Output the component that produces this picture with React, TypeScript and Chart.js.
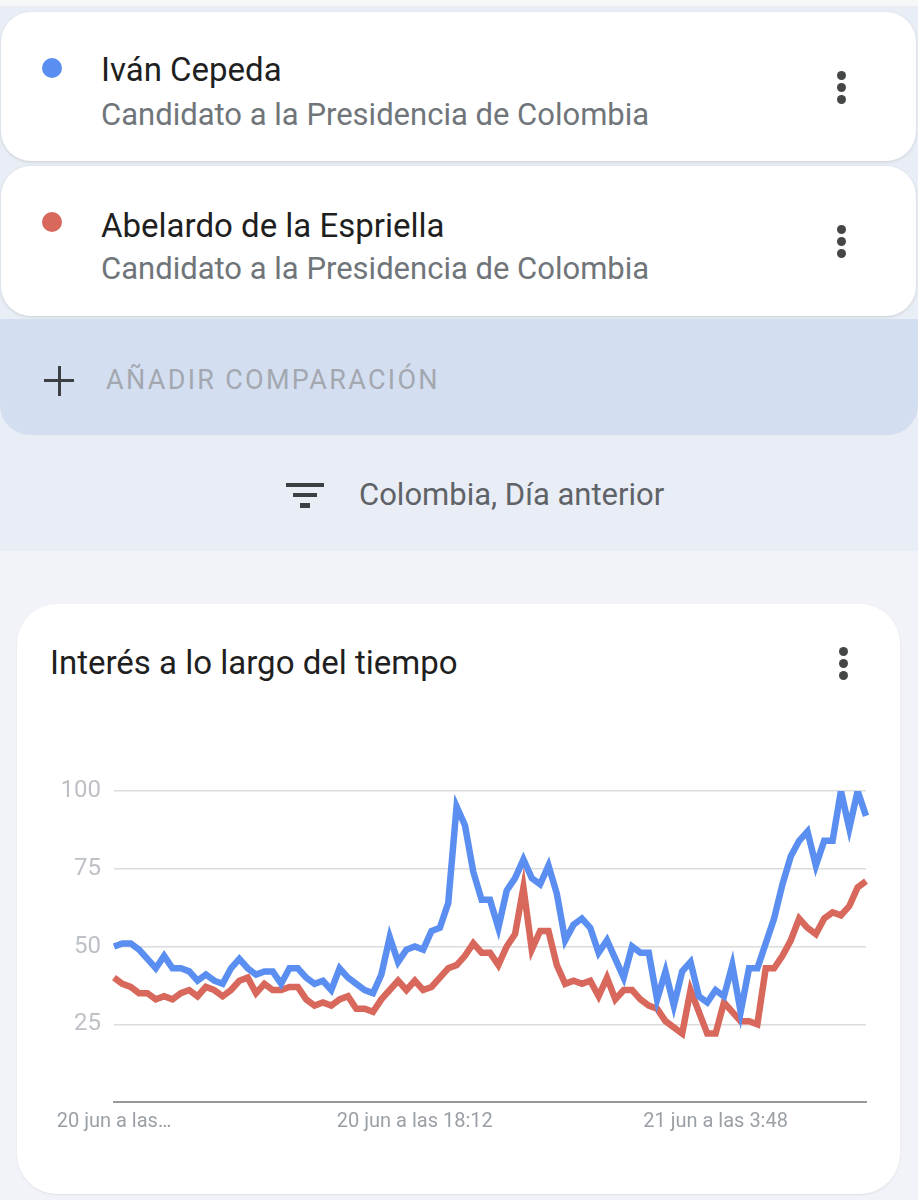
import React, { useEffect, useRef } from 'react';
import { Chart, registerables } from 'chart.js';

Chart.register(...registerables);

// ---- data ----
const DAY_20 = '20 jun a las ';
const DAY_21 = '21 jun a las ';
const TIMES_20 = [
  '8:36', '8:52', '9:08', '9:24', '9:40', '9:56', '10:12', '10:28', '10:44', '11:00',
  '11:16', '11:32', '11:48', '12:04', '12:20', '12:36', '12:52', '13:08', '13:24', '13:40',
  '13:56', '14:12', '14:28', '14:44', '15:00', '15:16', '15:32', '15:48', '16:04', '16:20',
  '16:36', '16:52', '17:08', '17:24', '17:40', '17:56', '18:12', '18:28', '18:44', '19:00',
  '19:16', '19:32', '19:48', '20:04', '20:20', '20:36', '20:52', '21:08', '21:24', '21:40',
  '21:56', '22:12', '22:28', '22:44', '23:00', '23:16', '23:32', '23:48',
];
const TIMES_21 = [
  '0:04', '0:20', '0:36', '0:52', '1:08', '1:24', '1:40', '1:56', '2:12', '2:28',
  '2:44', '3:00', '3:16', '3:32', '3:48', '4:04', '4:20', '4:36', '4:52', '5:08',
  '5:24', '5:40', '5:56', '6:12', '6:28', '6:44', '7:00', '7:16', '7:32', '7:48',
  '8:04', '8:20', '8:36',
];
const CEPEDA = [
  50, 51, 51, 49, 46, 43, 47, 43, 43, 42,
  39, 41, 39, 38, 43, 46, 43, 41, 42, 42,
  38, 43, 43, 40, 38, 39, 36, 43, 40, 38,
  36, 35, 41, 53, 45, 49, 50, 49, 55, 56,
  64, 95, 89, 74, 65, 65, 56, 68, 72, 78,
  72, 70, 76, 67, 52, 57, 59, 56, 48, 52,
  46, 40, 50, 48, 48, 33, 42, 31, 42, 45,
  34, 32, 36, 34, 44, 29, 43, 43, 51, 59,
  70, 79, 84, 87, 76, 84, 84, 100, 88, 100,
  92,
];
const ESPRIELLA = [
  40, 38, 37, 35, 35, 33, 34, 33, 35, 36,
  34, 37, 36, 34, 36, 39, 40, 35, 38, 36,
  36, 37, 37, 33, 31, 32, 31, 33, 34, 30,
  30, 29, 33, 36, 39, 36, 39, 36, 37, 40,
  43, 44, 47, 51, 48, 48, 44, 50, 54, 69,
  49, 55, 55, 44, 38, 39, 38, 39, 34, 40,
  33, 36, 36, 33, 31, 30, 26, 24, 22, 36,
  29, 22, 22, 32, 29, 26, 26, 25, 43, 43,
  47, 52, 59, 56, 54, 59, 61, 60, 63, 69,
  71,
];
const Y_TICKS = [25, 50, 75, 100];
const X_TICK_INDEXES = [0, 36, 72];
const SERIES_NAMES = ['Iván Cepeda', 'Abelardo de la Espriella'];
const SUBTITLE = 'Candidato a la Presidencia de Colombia';
const COLORS = ['#5a8ef0', '#d8685b'];

const LABELS = [
  ...TIMES_20.map((t) => DAY_20 + t),
  ...TIMES_21.map((t) => DAY_21 + t),
];

const FONT = 'Roboto, "Noto Sans", sans-serif';

function Text(props: { x: number; cy: number; size: number; color: string; text: string; weight?: number; spacing?: number }) {
  const lh = Math.round(props.size * 1.4);
  return (
    <div
      style={{
        position: 'absolute',
        left: props.x,
        top: props.cy - lh / 2,
        height: lh,
        lineHeight: lh + 'px',
        fontSize: props.size,
        color: props.color,
        fontFamily: FONT,
        fontWeight: props.weight || 400,
        letterSpacing: props.spacing ? props.spacing + 'px' : undefined,
        whiteSpace: 'nowrap',
      }}
    >
      {props.text}
    </div>
  );
}

function Kebab(props: { x: number; cy: number }) {
  const dots = [-12, 0, 12];
  return (
    <>
      {dots.map((d) => (
        <div
          key={d}
          style={{
            position: 'absolute',
            left: props.x - 4.5,
            top: props.cy + d - 4.5,
            width: 9,
            height: 9,
            borderRadius: '50%',
            background: '#444746',
          }}
        />
      ))}
    </>
  );
}

function Dot(props: { x: number; cy: number; color: string }) {
  return (
    <div
      style={{
        position: 'absolute',
        left: props.x - 10,
        top: props.cy - 10,
        width: 20,
        height: 20,
        borderRadius: '50%',
        background: props.color,
      }}
    />
  );
}

function TrendChart() {
  const ref = useRef<HTMLCanvasElement | null>(null);
  useEffect(() => {
    if (!ref.current) return;
    const chart = new Chart(ref.current, {
      type: 'line',
      data: {
        labels: LABELS,
        datasets: [
          {
            label: SERIES_NAMES[0],
            data: CEPEDA,
            borderColor: COLORS[0],
            backgroundColor: COLORS[0],
            borderWidth: 6.5,
            pointRadius: 0,
            tension: 0,
          },
          {
            label: SERIES_NAMES[1],
            data: ESPRIELLA,
            borderColor: COLORS[1],
            backgroundColor: COLORS[1],
            borderWidth: 6.5,
            pointRadius: 0,
            tension: 0,
          },
        ],
      },
      options: {
        animation: false,
        responsive: false,
        maintainAspectRatio: false,
        layout: { padding: { top: 31, right: 10, left: 0, bottom: 0 } },
        plugins: {
          legend: { display: false },
          tooltip: { enabled: false },
        },
        scales: {
          x: {
            type: 'category',
            grid: { display: false, drawTicks: false },
            border: { display: true, color: '#999999', width: 2 },
            afterBuildTicks: (scale: any) => {
              scale.ticks = X_TICK_INDEXES.map((i) => ({ value: i }));
            },
            afterFit: (scale: any) => {
              scale.height = 58;
            },
            ticks: {
              autoSkip: false,
              maxRotation: 0,
              minRotation: 0,
              padding: 8,
              color: '#9aa0a6',
              font: { family: FONT, size: 20 },
              callback: function (this: any, value: any) {
                const label = this.getLabelForValue(value) as string;
                if (value === 0) return label.slice(0, DAY_20.length - 1) + '…';
                return label;
              },
            },
          },
          y: {
            min: 0,
            max: 100,
            grid: {
              color: '#dcdcdc',
              lineWidth: 1.5,
              drawTicks: false,
            },
            border: { display: false },
            afterBuildTicks: (scale: any) => {
              scale.ticks = Y_TICKS.map((v) => ({ value: v }));
            },
            afterFit: (scale: any) => {
              scale.width = 84;
            },
            ticks: {
              padding: 13,
              color: '#bdc1c6',
              font: { family: FONT, size: 24 },
            },
          },
        },
      },
    });
    return () => chart.destroy();
  }, []);
  return (
    <canvas
      ref={ref}
      width={846}
      height={400}
      style={{ position: 'absolute', left: 30, top: 760, width: 846, height: 400 }}
    />
  );
}

export default function App() {
  const card: React.CSSProperties = {
    position: 'absolute',
    background: '#ffffff',
    borderRadius: 30,
    boxShadow: '0 1px 3px rgba(60,64,67,0.18)',
  };
  return (
    <div
      style={{
        position: 'absolute',
        left: 0,
        top: 0,
        width: 918,
        height: 1200,
        overflow: 'hidden',
        background: '#f1f3f8',
        fontFamily: FONT,
      }}
    >
      {/* upper section background */}
      <div style={{ position: 'absolute', left: 0, top: 0, width: 918, height: 551, background: '#e9eef6' }} />
      <div style={{ position: 'absolute', left: 0, top: 0, width: 918, height: 6, background: '#f6f7f9' }} />

      {/* series card 1 */}
      <div style={{ ...card, left: 1, top: 12, width: 915, height: 149 }} />
      <Dot x={52} cy={68} color={COLORS[0]} />
      <Text x={101} cy={70} size={33} color="#1f1f1f" text={SERIES_NAMES[0]} />
      <Text x={101} cy={114} size={31} color="#70757a" text={SUBTITLE} />
      <Kebab x={841} cy={87} />

      {/* series card 2 */}
      <div style={{ ...card, left: 1, top: 166, width: 915, height: 150 }} />
      <Dot x={52} cy={222} color={COLORS[1]} />
      <Text x={101} cy={226} size={33} color="#1f1f1f" text={SERIES_NAMES[1]} />
      <Text x={101} cy={268} size={31} color="#70757a" text={SUBTITLE} />
      <Kebab x={841} cy={241} />

      {/* add comparison */}
      <div
        style={{
          position: 'absolute',
          left: 0,
          top: 319,
          width: 918,
          height: 116,
          background: '#d3def0',
          borderRadius: '0 0 30px 30px',
        }}
      />
      <div style={{ position: 'absolute', left: 44, top: 379, width: 30, height: 3, background: '#3c4043' }} />
      <div style={{ position: 'absolute', left: 57.5, top: 366, width: 3, height: 30, background: '#3c4043' }} />
      <Text x={106} cy={380} size={27} color="#a3a8b0" text="AÑADIR COMPARACIÓN" spacing={2.3} />

      {/* filter row */}
      <div style={{ position: 'absolute', left: 286, top: 483, width: 38, height: 4, background: '#3c4043' }} />
      <div style={{ position: 'absolute', left: 293, top: 493, width: 24, height: 4, background: '#3c4043' }} />
      <div style={{ position: 'absolute', left: 300, top: 503, width: 10, height: 5, background: '#3c4043' }} />
      <Text x={359} cy={494} size={31} color="#5f6368" text="Colombia, Día anterior" />

      {/* chart card */}
      <div style={{ ...card, left: 17, top: 604, width: 883, height: 590, borderRadius: 40, boxShadow: '0 1px 2px rgba(60,64,67,0.10)' }} />
      <Text x={50} cy={663} size={33} color="#1f1f1f" text="Interés a lo largo del tiempo" />
      <Kebab x={843} cy={663} />
      <TrendChart />
    </div>
  );
}
